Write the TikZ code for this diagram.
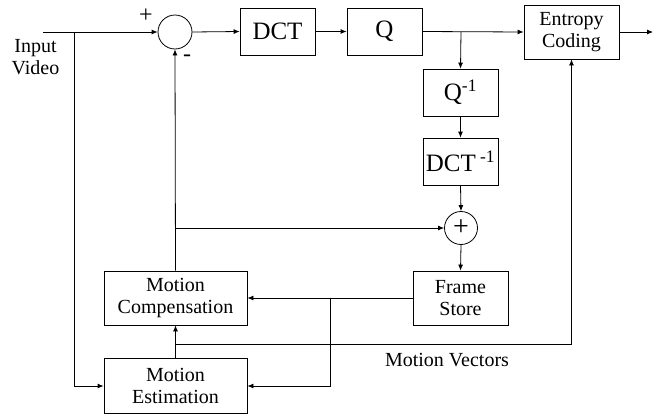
\documentclass[tikz,border=0pt]{standalone}
\usepackage{fontspec}
\setmainfont{Liberation Serif}
\usetikzlibrary{arrows.meta}
\tikzset{
  block/.style={draw,rectangle,inner sep=0pt,align=center,font=\fontsize{20}{22}\selectfont},
  opblock/.style={block,minimum width=75pt,minimum height=47pt,font=\fontsize{25}{27}\selectfont},
  sumnode/.style={draw,circle,inner sep=0pt,minimum size=34pt,font=\fontsize{28}{30}\selectfont},
  lbl/.style={align=center,font=\fontsize{20}{22}\selectfont},
}
\begin{document}
\begin{tikzpicture}[x=1pt,y=-1pt,line width=0.8pt,>={Latex[length=6pt,width=5pt]}]
  \useasboundingbox (0,0) rectangle (672,418);
  % forward path
  \node[sumnode] (sum) at (175,32) {};
  \node[opblock] (dct) at (277.5,31.5) {DCT};
  \node[opblock] (q) at (384.5,31.5) {Q};
  \node[block,minimum width=95pt,minimum height=54pt] (ent) at (571.5,32) {Entropy\\Coding};
  % inverse path
  \node[opblock] (qinv) at (460.5,92.5) {Q\textsuperscript{-1}};
  \node[opblock] (dctinv) at (460.5,161.5) {DCT\,\textsuperscript{-1}};
  \node[sumnode,minimum size=33pt] (add) at (461,228) {+};
  \node[block,minimum width=95pt,minimum height=54pt] (fs) at (460.5,298) {Frame\\Store};
  \node[block,minimum width=143pt,minimum height=54pt] (mc) at (175.5,298) {Motion\\Compensation};
  \node[block,minimum width=143pt,minimum height=55pt] (me) at (175.5,386) {Motion\\Estimation};
  % free ends and junctions
  \coordinate (in) at (43,32);
  \coordinate (out) at (653,32);
  \coordinate (split) at (74,32);
  \coordinate (qsplit) at (461,32);
  \coordinate (fsplit) at (330,298);
  \coordinate (mcsplit) at (175,228);
  \coordinate (mvsplit) at (175,344);
  % labels
  \node[lbl] (inlbl) at (35.5,57) {Input\\Video};
  \node[lbl,font=\fontsize{24}{26}\selectfont] (plus) at (146,16) {+};
  \node[lbl,font=\fontsize{24}{26}\selectfont] (minus) at (187,58) {-};
  \node[lbl] (mvlbl) at (447,360) {Motion Vectors};
  % connectors
  \draw[->] (in) -- (sum.west);
  \draw[->] (split) |- (me.west);
  \draw[->] (sum.east) -- (dct.west);
  \draw[->] (dct.east) -- (q.west);
  \draw[->] (q.east) -- (ent.west);
  \draw[->] (ent.east) -- (out);
  \draw[->] (qsplit) -- (qinv.north);
  \draw[->] (qinv.south) -- (dctinv.north);
  \draw[->] (dctinv.south) -- (add.north);
  \draw[->] (add.south) -- (fs.north);
  \draw[->] (mc.north) -- (sum.south);
  \draw[->] (mcsplit) -- (add.west);
  \draw[->] (fs.west) -- (mc.east);
  \draw[->] (fsplit) |- (me.east);
  \draw[->] (me.north) -- (mc.south);
  \draw[->] (mvsplit) -| (ent.south);
\end{tikzpicture}
\end{document}
